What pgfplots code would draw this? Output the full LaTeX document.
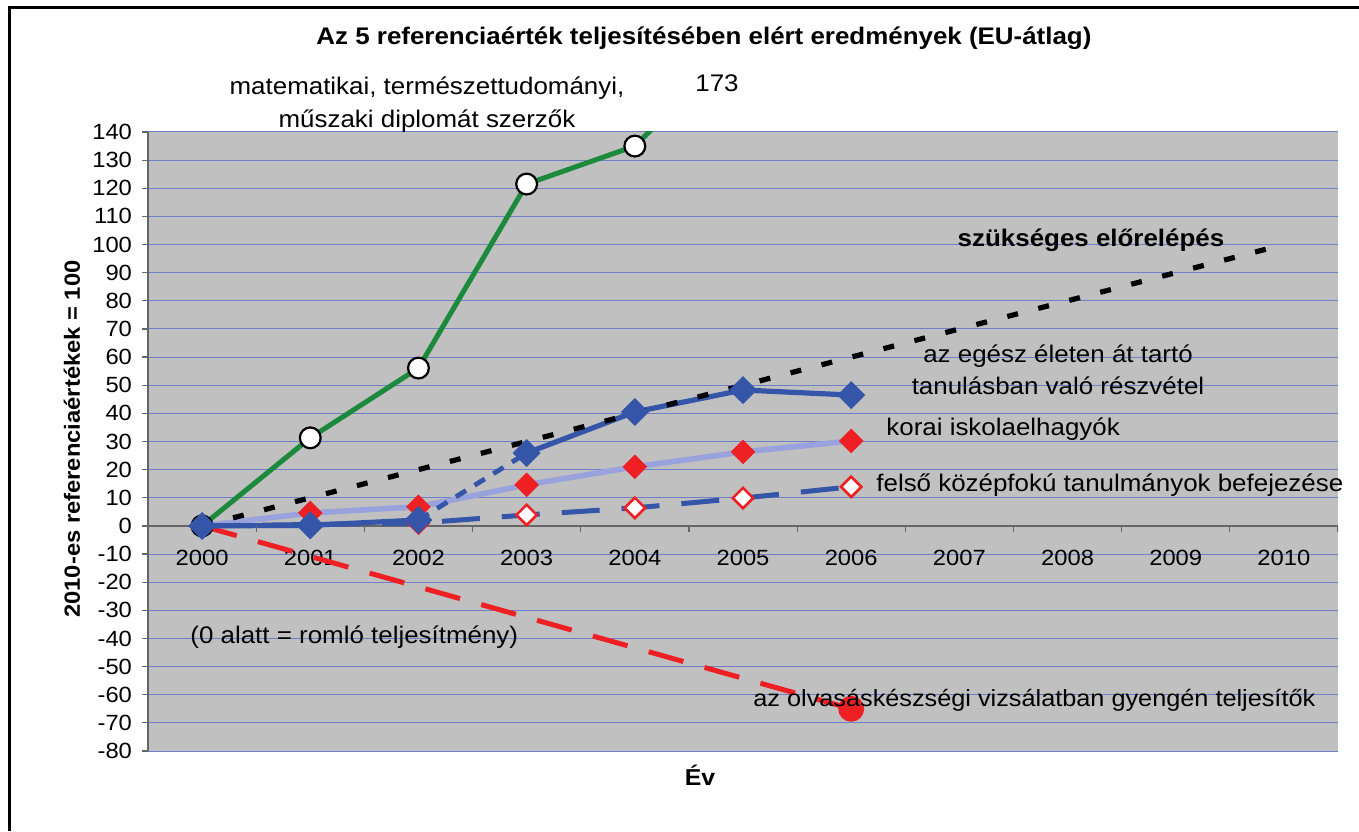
\documentclass[border=0pt]{standalone}
\usepackage{pgfplots}
\pgfplotsset{compat=1.18}
\usepackage{fontspec}
\setmainfont{Liberation Sans}[FakeStretch=1.08]
\definecolor{bggray}{HTML}{C0C0C0}
\definecolor{gridblue}{HTML}{7080C8}
\definecolor{mygreen}{HTML}{1B8A3C}
\definecolor{myblue}{HTML}{3556A8}
\definecolor{lightblue}{HTML}{9AA2DE}
\definecolor{myred}{HTML}{EE2024}
\begin{document}
\begin{tikzpicture}
\path[use as bounding box] (0,0) rectangle (679.5pt,415.5pt);
\draw[line width=1.5pt] (4.5pt,0) -- (4.5pt,411.5pt) -- (679.5pt,411.5pt);
\begin{axis}[
  at={(74pt,40pt)}, anchor=south west,
  scale only axis, width=595pt, height=309.5pt,
  xmin=1999.5, xmax=2010.5, ymin=-80, ymax=140,
  axis x line=middle, axis y line=left,
  hide obscured x ticks=false, hide obscured y ticks=false,
  axis line style={-, draw=black!60, line width=0.8pt},
  axis background/.style={fill=bggray},
  xtick={2000,2001,2002,2003,2004,2005,2006,2007,2008,2009,2010},
  xticklabels={2000,2001,2002,2003,2004,2005,2006,2007,2008,2009,2010},
  ytick={-80,-70,-60,-50,-40,-30,-20,-10,0,10,20,30,40,50,60,70,80,90,100,110,120,130,140},
  xtick style={draw=none},
  ytick style={draw=black!60, line width=0.6pt},
  ytick align=outside, major tick length=3pt,
  ymajorgrids, major grid style={draw=gridblue, line width=0.5pt},
  ticklabel style={font=\fontsize{11}{13}\selectfont},
  /pgf/number format/assume math mode=true,
  xticklabel style={yshift=-7pt},
  yticklabel style={xshift=-1.5pt},
]
% green: mathematics, science and technology graduates
\addplot[mygreen, line width=2.5pt, mark=*, mark size=5.2pt,
  mark options={fill=white, draw=black, line width=1.1pt}]
  coordinates {(2000,0) (2001,31.3) (2002,56.1) (2003,121.5) (2004,135) (2005,173)};
% red dashed: low achievers in reading
\addplot[myred, line width=2.5pt, dash pattern=on 18pt off 11pt, mark=*, mark size=5.2pt,
  mark indices={2}, mark options={solid, fill=myred, draw=myred}]
  coordinates {(2000,0) (2006,-65)};
% early school leavers
\addplot[lightblue, line width=2.8pt, mark=square*, mark size=4.1pt,
  mark options={rotate=45, fill=myred, draw=myred, line width=0.5pt}]
  coordinates {(2000,0) (2001,4.6) (2002,6.8) (2003,14.6) (2004,21) (2005,26.3) (2006,30.2)};
% upper secondary completion
\addplot[myblue, line width=2.5pt, dash pattern=on 19pt off 11pt, mark=square*, mark size=3.6pt,
  mark options={solid, rotate=45, fill=white, draw=myred, line width=1.3pt}]
  coordinates {(2000,0) (2002,1) (2003,3.9) (2004,6.4) (2005,9.9) (2006,13.9)};
% lifelong learning
\addplot[myblue, line width=2.6pt, mark=square*, mark size=4.7pt,
  mark options={rotate=45, fill=myblue, draw=myblue, line width=0.5pt}]
  coordinates {(2000,0) (2001,0.2) (2002,2.1)};
\addplot[myblue, line width=2.4pt, dash pattern=on 6pt off 5pt, forget plot]
  coordinates {(2002,2.1) (2003,25.9)};
\addplot[myblue, line width=2.6pt, mark=square*, mark size=4.7pt,
  mark options={rotate=45, fill=myblue, draw=myblue, line width=0.5pt}]
  coordinates {(2003,25.9) (2004,40.5) (2005,48.3) (2006,46.5)};
% needed progress
\addplot[black, line width=2.6pt, dash pattern=on 5.5pt off 10.5pt]
  coordinates {(2000,0) (2001,10) (2002,20) (2003,30) (2004,40) (2005,50) (2006,60) (2007,70) (2008,80) (2009,90) (2010,100)};
% x axis tick marks between categories
\pgfplotsinvokeforeach{2000.5,2001.5,2002.5,2003.5,2004.5,2005.5,2006.5,2007.5,2008.5,2009.5,2010.5}{
  \draw[black!60, line width=0.6pt] (axis cs:#1,0) -- ([yshift=-3pt]axis cs:#1,0);
}
\end{axis}
\node[font=\fontsize{12}{14}\selectfont\bfseries] at (352pt,396.5pt) {Az 5 referenciaérték teljesítésében elért eredmények (EU-átlag)};
\node[font=\fontsize{12}{14}\selectfont] at (213.5pt,371.5pt) {matematikai, természettudományi,};
\node[font=\fontsize{12}{14}\selectfont] at (213.5pt,355pt) {műszaki diplomát szerzők};
\node[font=\fontsize{12}{14}\selectfont] at (358.5pt,374pt) {173};
\node[font=\fontsize{12}{14}\selectfont\bfseries] at (545.5pt,295.5pt) {szükséges előrelépés};
\node[font=\fontsize{12}{14}\selectfont, inner sep=0pt] at (529pt,237.5pt) {az egész életen át tartó};
\node[font=\fontsize{12}{14}\selectfont, inner sep=0pt] at (529pt,222.5pt) {tanulásban való részvétel};
\node[font=\fontsize{12}{14}\selectfont, anchor=west, inner sep=0pt] at (443pt,201pt) {korai iskolaelhagyók};
\node[font=\fontsize{12}{14}\selectfont, anchor=west, inner sep=0pt] at (438pt,173pt) {felső középfokú tanulmányok befejezése};
\node[font=\fontsize{12}{14}\selectfont, anchor=west, inner sep=0pt] at (95pt,97pt) {(0 alatt = romló teljesítmény)};
\node[font=\fontsize{11.7}{14}\selectfont, anchor=west, inner sep=0pt] at (376.5pt,65.5pt) {az olvasáskészségi vizsálatban gyengén teljesítők};
\node[font=\fontsize{11}{13}\selectfont\bfseries, rotate=90] at (36pt,196pt) {2010-es referenciaértékek = 100};
\node[font=\fontsize{11.5}{13}\selectfont\bfseries] at (350pt,28pt) {Év};
\end{tikzpicture}
\end{document}
